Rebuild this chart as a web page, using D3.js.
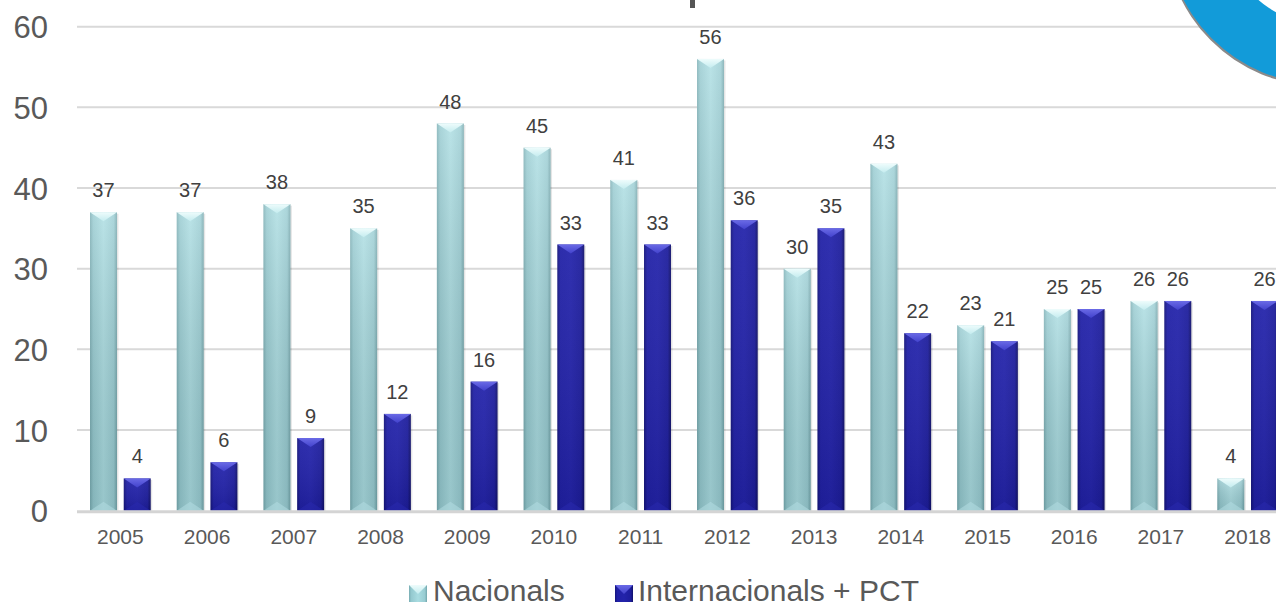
<!DOCTYPE html>
<html><head><meta charset="utf-8">
<script src="https://cdn.jsdelivr.net/npm/d3@7/dist/d3.min.js"></script>
<style>
html,body{margin:0;padding:0;background:#fff;}
svg{display:block;font-family:"Liberation Sans",Arial,sans-serif;}
</style></head>
<body>
<svg id="chart" width="1276" height="606"></svg>
<script>
const years = ["2005","2006","2007","2008","2009","2010","2011","2012","2013","2014","2015","2016","2017","2018"];
const nacionals = [37,37,38,35,48,45,41,56,30,43,23,25,26,4];
const internacionals = [4,6,9,12,16,33,33,36,35,22,21,25,26,26];
const seriesNames = ["Nacionals","Internacionals + PCT"];
const yTicks = [0,10,20,30,40,50,60];

const svg = d3.select("#chart");
const W = 1276, H = 606;
const plotLeft = 77, plotRight = 1291, yTop = 26.7, yBottom = 510.7;

const x0 = d3.scaleBand().domain(years).range([plotLeft, plotRight]).paddingInner(0.3).paddingOuter(0.15);
const x1 = d3.scaleBand().domain(seriesNames).range([0, x0.bandwidth()]).paddingInner(0.2);
const y = d3.scaleLinear().domain([0,60]).range([yBottom, yTop]);

const defs = svg.append("defs");
function hGrad(id, stops){
  const g = defs.append("linearGradient").attr("id",id).attr("x1","0").attr("x2","1").attr("y1","0").attr("y2","0");
  stops.forEach(s=>g.append("stop").attr("offset",s[0]).attr("stop-color",s[1]));
}
function vGrad(id, stops){
  const g = defs.append("linearGradient").attr("id",id).attr("x1","0").attr("x2","0").attr("y1","0").attr("y2","1");
  stops.forEach(s=>g.append("stop").attr("offset",s[0]).attr("stop-color",s[1]).attr("stop-opacity", s[2]===undefined?1:s[2]));
}
hGrad("gNac", [[0,"#78acb2"],[0.12,"#94c9cf"],[0.5,"#a9dce1"],[0.88,"#98ccd2"],[1,"#72a5ab"]]);
hGrad("gInt", [[0,"#14147a"],[0.12,"#2020a6"],[0.5,"#2323aa"],[0.88,"#1d1d9c"],[1,"#101068"]]);
vGrad("gShadeNac", [[0,"#ffffff",0.2],[1,"#000000",0.10]]);
vGrad("gShadeInt", [[0,"#ffffff",0.06],[1,"#000000",0.10]]);
vGrad("gTopNac", [[0,"#eefcfc"],[1,"#c4ecef"]]);
vGrad("gTopInt", [[0,"#6a6ae6"],[1,"#4242cc"]]);

// gridlines
svg.append("g").selectAll("line").data(yTicks.filter(t=>t>0)).join("line")
  .attr("x1", plotLeft).attr("x2", W).attr("y1", d=>y(d)).attr("y2", d=>y(d))
  .attr("stroke","#d9d9d9").attr("stroke-width",2);

// decorations (cropped elements of the original slide)
const ringCx = 1322, ringCy = -72;
const ringArc = d3.arc().innerRadius(96).outerRadius(156).startAngle(0).endAngle(2*Math.PI);
svg.append("path").attr("d", ringArc()).attr("transform",`translate(${ringCx-1},${ringCy+2})`).attr("fill","#8a8a8a");
svg.append("path").attr("d", ringArc()).attr("transform",`translate(${ringCx},${ringCy})`).attr("fill","#129bd9");
svg.append("rect").attr("x",690).attr("y",0).attr("width",5).attr("height",8).attr("fill","#555555");

// bars
const data = [];
years.forEach((yr,i)=>{
  data.push({year:yr, s:seriesNames[0], v:nacionals[i]});
  data.push({year:yr, s:seriesNames[1], v:internacionals[i]});
});

const bars = svg.append("g");
data.forEach(d=>{
  const isNac = d.s===seriesNames[0];
  const bx = x0(d.year) + x1(d.s);
  const bw = x1.bandwidth();
  const by = y(d.v);
  const bh = y(0) - by;
  const g = bars.append("g");
  g.append("rect").attr("x",bx+1.5).attr("y",by+1.5).attr("width",bw).attr("height",bh)
    .attr("fill","#000").attr("opacity",0.10);
  g.append("rect").attr("x",bx).attr("y",by).attr("width",bw).attr("height",bh)
    .attr("fill", isNac ? "url(#gNac)" : "url(#gInt)");
  g.append("rect").attr("x",bx).attr("y",by).attr("width",bw).attr("height",bh)
    .attr("fill", isNac ? "url(#gShadeNac)" : "url(#gShadeInt)");
  const bev = Math.min(9, bh/2);
  g.append("path").attr("d", `M${bx},${by} L${bx+bw},${by} L${bx+bw/2},${by+bev} Z`)
    .attr("fill", isNac ? "url(#gTopNac)" : "url(#gTopInt)");
  g.append("path").attr("d", `M${bx},${by+bh} L${bx+bw},${by+bh} L${bx+bw/2},${by+bh-bev} Z`)
    .attr("fill", isNac ? "#b3dde1" : "#2a2ab0").attr("opacity", isNac?0.55:0.5);
  svg.append("text").attr("x", bx+bw/2).attr("y", by-15)
    .attr("text-anchor","middle").attr("font-size",20).attr("fill","#404040").text(d.v);
});

// baseline
svg.append("line").attr("x1",plotLeft).attr("x2",W).attr("y1",y(0)+1).attr("y2",y(0)+1)
  .attr("stroke","#d4d4d4").attr("stroke-width",3);

// y axis labels
const yAxis = d3.axisLeft(y).tickValues(yTicks).tickSize(0).tickPadding(0);
const ya = svg.append("g").attr("transform","translate(48,0)").call(yAxis);
ya.select(".domain").remove();
ya.selectAll("text").attr("font-size",31).attr("fill","#595959").attr("font-family","Liberation Sans, Arial, sans-serif").attr("dy","0.36em");

// x axis labels
const xAxis = d3.axisBottom(x0).tickSize(0).tickPadding(0);
const xa = svg.append("g").attr("transform",`translate(0,${y(0)+18})`).call(xAxis);
xa.select(".domain").remove();
xa.selectAll("text").attr("font-size",21).attr("fill","#595959").attr("font-family","Liberation Sans, Arial, sans-serif").attr("dy","0.71em");

// legend
const legend = svg.append("g");
const legItems = [
  {name:seriesNames[0], mx:409, tx:433, fill:"url(#gNac)", top:"url(#gTopNac)"},
  {name:seriesNames[1], mx:615, tx:638, fill:"url(#gInt)", top:"url(#gTopInt)"}
];
legItems.forEach(it=>{
  legend.append("rect").attr("x",it.mx).attr("y",585).attr("width",18).attr("height",17).attr("fill",it.fill);
  legend.append("path").attr("d",`M${it.mx},585 L${it.mx+18},585 L${it.mx+9},594 Z`).attr("fill",it.top);
  legend.append("text").attr("x",it.tx).attr("y",601).attr("font-size",30).attr("fill","#595959").text(it.name);
});
</script>
</body></html>
